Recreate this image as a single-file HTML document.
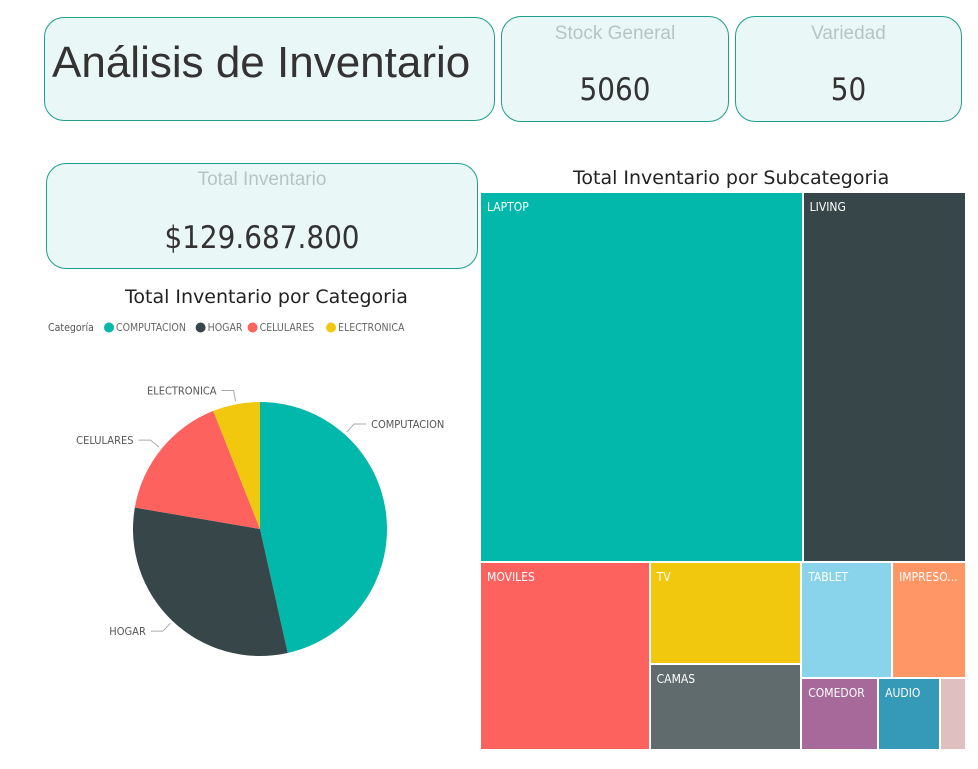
<!DOCTYPE html>
<html><head><meta charset="utf-8"><style>
body{margin:0;width:978px;height:769px;background:#fff;font-family:"Liberation Sans","DejaVu Sans",sans-serif;position:relative;overflow:hidden}
.card{position:absolute;background:#e9f8f6;border:1px solid #1f9e8c;border-radius:20px;box-sizing:border-box}
.ct{position:absolute;left:0;right:0;text-align:center;color:#b7c4c3;font-size:19px}
.cv{position:absolute;left:0;right:0;text-align:center;color:#333;font-size:31px;font-family:"DejaVu Sans Condensed","DejaVu Sans",sans-serif}
.title{position:absolute;font-size:19px;color:#222;font-family:"DejaVu Sans",sans-serif}
</style></head><body>
<div class="card" style="left:44px;top:17px;width:451px;height:104px">
<div style="position:absolute;left:7px;top:20px;font-size:44px;color:#333">Análisis de Inventario</div></div>
<div class="card" style="left:501px;top:16px;width:228px;height:106px">
<div class="ct" style="top:6px">Stock General</div><div class="cv" style="top:55px">5060</div></div>
<div class="card" style="left:735px;top:16px;width:227px;height:106px">
<div class="ct" style="top:6px">Variedad</div><div class="cv" style="top:55px">50</div></div>
<div class="card" style="left:46px;top:163px;width:432px;height:106px">
<div class="ct" style="top:5px">Total Inventario</div><div class="cv" style="top:56px">$129.687.800</div></div>

<div class="title" style="left:125px;top:286px">Total Inventario por Categoria</div>
<div class="title" style="left:573px;top:167px">Total Inventario por Subcategoria</div>

<svg id="pie" width="978" height="769" style="position:absolute;left:0;top:0"></svg>
<div id="tm" style="position:absolute;left:481px;top:193px;width:486px;height:558px"></div>

<script>
const pieCats=["COMPUTACION","HOGAR","CELULARES","ELECTRONICA"];
const pieVals=[46.5,31.2,16.3,6.0];
const pieColors=["#01b8aa","#374649","#fd625e","#f2c80f"];
const labelFrac=[0.25,0.5,0.5,0.5];
const tmNames=["LAPTOP","LIVING","MOVILES","TV","CAMAS","TABLET","IMPRESO...","COMEDOR","AUDIO",""];
const tmVals=[118818,60147,31772,15402,12986,10465,8510,5544,4464,1872];
const tmColors=["#01b8aa","#374649","#fd625e","#f2c80f","#5f6b6d","#8ad4eb","#fe9666","#a66999","#3599b8","#dfbfbf"];

const NS="http://www.w3.org/2000/svg";
const svg=document.getElementById('pie');
const FF='DejaVu Sans Condensed, DejaVu Sans, sans-serif';
function mk(t,a){const e=document.createElementNS(NS,t);for(const k in a)e.setAttribute(k,a[k]);svg.appendChild(e);return e;}
let lx=48;
const lt=mk('text',{x:lx,y:331,'font-size':10.5,fill:'#555','font-family':FF});lt.textContent='Categoría';


lx=104;
pieCats.forEach((c,i)=>{
 const ci=mk('circle',{cx:lx+5,cy:327.5,r:5,fill:pieColors[i]});
 
 
 const t=mk('text',{x:lx+12,y:331,'font-size':10.5,fill:'#666','font-family':FF});t.textContent=c;
 
 
 lx+=12+c.length*6.6+7;
});
const cx=260,cy=529,R=127;
const tot=pieVals.reduce((a,b)=>a+b,0);
let a0=0;
pieVals.forEach((v,i)=>{
 const a1=a0+v/tot*2*Math.PI;
 const p=(a)=>[cx+R*Math.sin(a),cy-R*Math.cos(a)];
 const [x0,y0]=p(a0),[x1,y1]=p(a1);
 const sl=mk('path',{d:`M${cx},${cy}L${x0},${y0}A${R},${R} 0 ${a1-a0>Math.PI?1:0} 1 ${x1},${y1}Z`,fill:pieColors[i]});
 
 
 const am=a0+(a1-a0)*labelFrac[i], s=Math.sin(am), c=-Math.cos(am);
 const ex=cx+(R+3)*s, ey=cy+(R+3)*c, mx=cx+(R+14)*s, my=cy+(R+14)*c;
 const right=s>=0, hx=mx+(right?12:-12);
 mk('polyline',{points:`${ex},${ey} ${mx},${my} ${hx},${my}`,fill:'none',stroke:'#aaa','stroke-width':1});
 const t=mk('text',{x:hx+(right?5:-5),y:my+4,'font-size':11,fill:'#555','text-anchor':right?'start':'end','font-family':FF});
 t.textContent=pieCats[i];
 
 
 a0=a1;
});
const tmTree={d:'v',c:[{d:'h',c:[0,1]},{d:'h',c:[2,{d:'v',c:[3,4]},{d:'v',c:[{d:'h',c:[5,6]},{d:'h',c:[7,8,9]}]}]}]};
const tm=document.getElementById('tm');
function sum(n){return typeof n==='number'?tmVals[n]:n.c.reduce((a,b)=>a+sum(b),0);}
function lay(n,x,y,w,h){
 if(typeof n==='number'){
  const d=document.createElement('div');
  d.style.cssText=`position:absolute;left:${x}px;top:${y}px;width:${w-2}px;height:${h-2}px;background:${tmColors[n]};color:#fff;font-size:12px;font-family:"DejaVu Sans Condensed","DejaVu Sans",sans-serif;box-sizing:border-box;overflow:hidden`;
  d.innerHTML=`<span style="position:absolute;left:6px;top:7px;white-space:nowrap">${tmNames[n]}</span>`;
  
  
  tm.appendChild(d);return;
 }
 const S=sum(n);let o=0;
 n.c.forEach(ch=>{const f=sum(ch)/S;
  if(n.d==='h'){lay(ch,x+o,y,w*f,h);o+=w*f;}else{lay(ch,x,y+o,w,h*f);o+=h*f;}});
}
lay(tmTree,0,0,486,558);
</script>
</body></html>
